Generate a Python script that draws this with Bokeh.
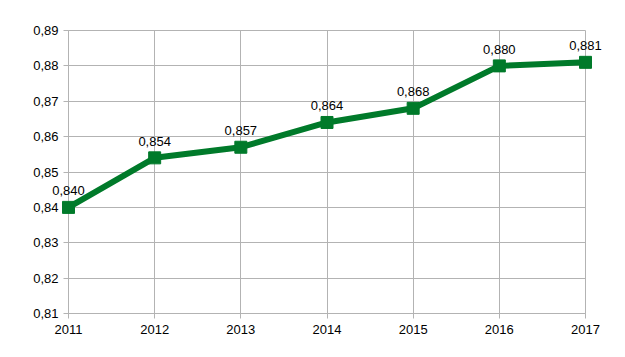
from bokeh.plotting import figure
from bokeh.models import ColumnDataSource, CustomJSTickFormatter, FixedTicker, Range1d, LabelSet
from bokeh.core.properties import value
from bokeh.embed import file_html
from bokeh.resources import INLINE

years = [2011, 2012, 2013, 2014, 2015, 2016, 2017]
values = [0.840, 0.854, 0.857, 0.864, 0.868, 0.880, 0.881]
y_ticks = [0.81, 0.82, 0.83, 0.84, 0.85, 0.86, 0.87, 0.88, 0.89]

labels = [f"{v:.3f}".replace(".", ",") for v in values]
src = ColumnDataSource(dict(x=years, y=values, lab=labels))

GREEN = "#007a2a"
GRAY = "#b3b3b3"
FONT = "Liberation Sans"

# figure geometry (px): data box 2011..2017 -> 68..585, 0.89..0.81 -> 30..313
W, H = 609, 341
L, R, T, B = 8, 604, 8, 338
X0, X1, XP0, XP1 = years[0], years[-1], 68, 585
Y0, Y1, YP0, YP1 = y_ticks[0], y_ticks[-1], 313, 30
xs = (X1 - X0) / (XP1 - XP0)
ys = (Y1 - Y0) / (YP0 - YP1)
x_range = Range1d(X0 - (XP0 - L) * xs, X1 + (R - XP1) * xs)
y_range = Range1d(Y0 - (B - YP0) * ys, Y1 + (YP1 - T) * ys)

p = figure(width=W, height=H, output_backend="svg", toolbar_location=None,
           x_range=x_range, y_range=y_range,
           min_border_left=L, min_border_right=W - R, min_border_top=T, min_border_bottom=H - B)
p.outline_line_color = None
p.background_fill_color = "white"
p.border_fill_color = "white"

for ax in (p.xaxis, p.yaxis):
    ax.axis_line_color = GRAY
    ax.axis_line_width = 1
    ax.major_tick_line_color = GRAY
    ax.major_tick_out = 5
    ax.major_tick_in = 0
    ax.minor_tick_line_color = None
    ax.major_label_text_font = FONT
    ax.major_label_text_font_size = "13px"
    ax.major_label_text_color = "#000000"
    ax.level = "underlay"

p.xaxis.ticker = FixedTicker(ticks=years)
p.xaxis.formatter = CustomJSTickFormatter(code="return tick.toFixed(0);")
p.xaxis.major_label_standoff = 6
p.xaxis.fixed_location = Y0
p.xaxis.bounds = (X0, X1)
p.yaxis.ticker = FixedTicker(ticks=y_ticks)
p.yaxis.formatter = CustomJSTickFormatter(code="return tick.toFixed(2).replace('.', ',');")
p.yaxis.major_label_standoff = 5
p.yaxis.fixed_location = X0
p.yaxis.bounds = (Y0, Y1)

p.xgrid.ticker = FixedTicker(ticks=years)
p.xgrid.bounds = (X0, X1)
p.xgrid.cross_bounds = (Y0, Y1)
p.ygrid.ticker = FixedTicker(ticks=y_ticks)
p.ygrid.bounds = (Y0, Y1)
p.ygrid.cross_bounds = (X0, X1)
p.grid.grid_line_color = GRAY
p.grid.grid_line_width = 1

p.line("x", "y", source=src, line_color=GREEN, line_width=6)
p.scatter("x", "y", source=src, marker="square", size=12, fill_color=GREEN, line_color=GREEN)
p.add_layout(LabelSet(x="x", y="y", text="lab", source=src, text_align="center",
                      text_baseline="bottom", y_offset=12, text_font=value(FONT),
                      text_font_size="13px", text_color="#000000"))

open("out.html", "w").write(file_html(p, INLINE))
